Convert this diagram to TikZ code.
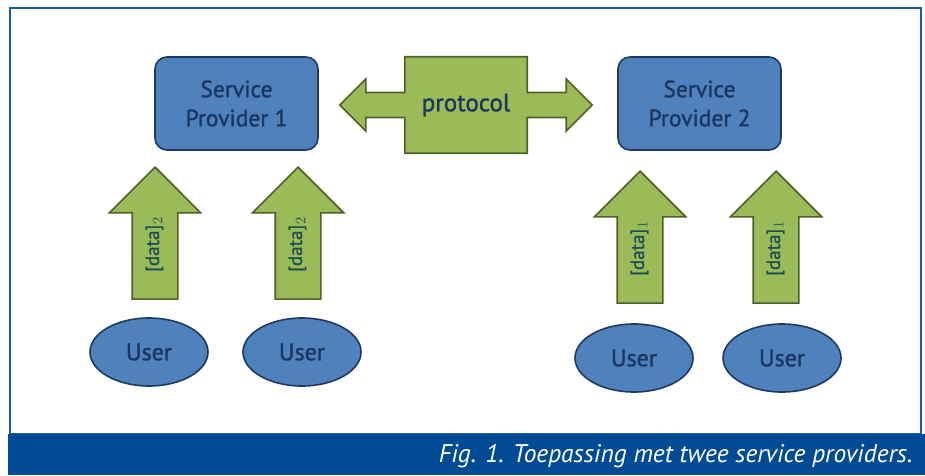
\documentclass[tikz,border=0pt]{standalone}
\usepackage{fontspec}
\setmainfont{PT Sans}
\newfontfamily\labelfont[FakeBold=1.2]{PT Sans}
\usetikzlibrary{shapes.geometric,shapes.arrows,positioning,calc,backgrounds}
\definecolor{boxblue}{HTML}{4F81BD}
\definecolor{navyline}{HTML}{1F3A60}
\definecolor{navytext}{HTML}{1B365F}
\definecolor{leafgreen}{HTML}{9BBB59}
\definecolor{oliveline}{HTML}{4E6128}
\definecolor{datatext}{HTML}{1D4F55}
\definecolor{frameblue}{HTML}{1E5AA8}
\definecolor{barblue}{HTML}{004B93}

\begin{document}
\begin{tikzpicture}[
    x=1pt, y=1pt,
    provider/.style={rectangle, rounded corners=12pt, draw=navyline, fill=boxblue, line width=1.6pt,
                     minimum width=163pt, minimum height=93pt, align=center,
                     font=\labelfont\fontsize{23.5}{29}\selectfont, text=navytext},
    user/.style={ellipse, draw=navyline, fill=boxblue, line width=1.6pt,
                 minimum width=118pt, minimum height=68pt,
                 font=\labelfont\fontsize{24}{26}\selectfont, text=navytext},
    datarrow/.style={single arrow, draw=oliveline, fill=leafgreen, line width=1.6pt, rotate=90,
                     minimum height=132pt, single arrow head extend=23pt, single arrow tip angle=90,
                     inner ysep=14pt, text height=12pt, text depth=4pt, anchor=tip,
                     font=\labelfont\fontsize{19}{19}\selectfont, text=datatext},
    blockline/.style={draw=oliveline, fill=leafgreen, line width=1.6pt},
    protobox/.style={rectangle, minimum width=122pt, minimum height=96pt,
                     font=\labelfont\fontsize{25}{27}\selectfont, text=navytext},
]
\useasboundingbox (0,0) rectangle (925,475);

% ── frame and caption bar ────────────────────────────────────────────────
\draw[frameblue, line width=2.8pt] (10,41) rectangle (921,467);
\fill[barblue] (8,0) rectangle (925,41);
\node[anchor=east, text=white, font=\fontsize{25.5}{28}\selectfont\itshape] (caption) at (916,19)
    {Fig. 1. Toepassing met twee service providers.};

% ── service providers ────────────────────────────────────────────────────
\node[provider] (sp1) at (236.5,371.5) {Service\\Provider 1};
\node[provider] (sp2) at (699.5,371.5) {Service\\Provider 2};

% ── protocol ─────────────────────────────────────────────────────────────
\node[protobox] (proto) at (466,370) {protocol};
\begin{scope}[on background layer]
\draw[blockline] (proto.north west) -- (proto.north east)
    -- ([yshift=12.5pt]proto.east) -- ++(39,0) -- ++(0,13.5) -- ([xshift=65pt]proto.east)
    -- ++(-26,-26) -- ++(0,13.5) -- ++(-39,0) -- (proto.south east) -- (proto.south west)
    -- ([yshift=-12.5pt]proto.west) -- ++(-39,0) -- ++(0,-13.5) -- ([xshift=-65pt]proto.west)
    -- ++(26,26) -- ++(0,-13.5) -- ++(39,0) -- cycle;
\end{scope}

% ── users ────────────────────────────────────────────────────────────────
\node[user] (u1) at (149,123) {User};
\node[user] (u2) at (302,123) {User};
\node[user] (u3) at (634,117) {User};
\node[user] (u4) at (782,117) {User};

% ── data arrows ──────────────────────────────────────────────────────────
\node[datarrow] (d1) at (155,309) {[data]$_2$};
\node[datarrow] (d2) at (298,309) {[data]$_2$};
\node[datarrow] (d3) at (640,305) {[data]$_1$};
\node[datarrow] (d4) at (776,305) {[data]$_1$};

\end{tikzpicture}
\end{document}
